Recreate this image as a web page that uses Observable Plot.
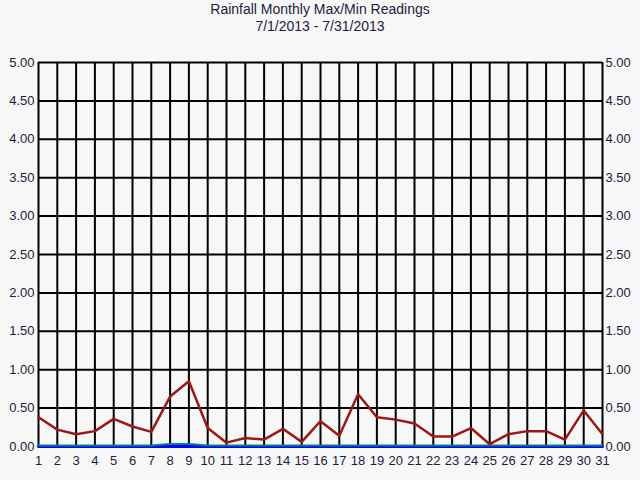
<!DOCTYPE html>
<html><head><meta charset="utf-8">
<script src="https://cdn.jsdelivr.net/npm/d3@7"></script>
<script src="https://cdn.jsdelivr.net/npm/@observablehq/plot@0.6"></script>
<style>
html,body{margin:0;padding:0;background:#f7f7f7;font-family:Arial,"Liberation Sans",sans-serif;}
#title{height:40px;text-align:center;color:#1c1c40;font-size:14px;line-height:17px;padding-top:1px;box-sizing:border-box;width:640px}
</style></head><body>
<div id="title"><div>Rainfall Monthly Max/Min Readings</div><div>7/1/2013 - 7/31/2013</div></div>
<div id="chart"></div>
<script>
const days = [1,2,3,4,5,6,7,8,9,10,11,12,13,14,15,16,17,18,19,20,21,22,23,24,25,26,27,28,29,30,31];
const maxRain = [0.38,0.22,0.16,0.20,0.36,0.26,0.19,0.65,0.85,0.24,0.05,0.11,0.09,0.23,0.06,0.33,0.14,0.68,0.38,0.35,0.30,0.13,0.13,0.24,0.03,0.16,0.20,0.20,0.09,0.47,0.16];
const minRain = [0,0,0,0,0,0,0,0,0,0,0,0,0,0,0,0,0,0,0,0,0,0,0,0,0,0,0,0,0,0,0];
const avgRain = [0,0,0,0,0,0,0,0.02,0.02,0,0,0,0,0,0,0,0,0,0,0,0,0,0,0,0,0,0,0,0,0,0];
const yTicks = [0,0.5,1,1.5,2,2.5,3,3.5,4,4.5,5];

const rows = days.map((d,i)=>({day:d, max:maxRain[i], min:minRain[i], avg:avgRain[i]}));

const chart = Plot.plot({
  width:640, height:440,
  marginTop:22, marginBottom:34, marginLeft:38, marginRight:38,
  style:{background:"#f7f7f7", fontSize:"13px", fontFamily:"Arial, 'Liberation Sans', sans-serif", color:"#1c1c40", overflow:"visible"},
  x:{domain:[1,31]},
  y:{domain:[0,5]},
  marks:[
    Plot.gridY(yTicks,{stroke:"black", strokeOpacity:1, strokeWidth:2}),
    Plot.gridX(days,{stroke:"black", strokeOpacity:1, strokeWidth:2}),
    Plot.axisY(yTicks,{anchor:"left", tickSize:0, tickPadding:4, tickFormat:d=>d.toFixed(2), label:null}),
    Plot.axisY(yTicks,{anchor:"right", tickSize:0, tickPadding:3, tickFormat:d=>d.toFixed(2), label:null}),
    Plot.axisX(days,{anchor:"bottom", tickSize:0, tickPadding:9, tickFormat:d=>String(d), label:null}),
    Plot.lineY(rows,{x:"day", y:"min", stroke:"#0000ff", strokeWidth:3}),
    Plot.lineY(rows,{x:"day", y:"avg", stroke:"#008080", strokeWidth:2, dy:-1}),
    Plot.lineY(rows,{x:"day", y:"max", stroke:"#9b1818", strokeWidth:2.5})
  ]
});
document.getElementById("chart").appendChild(chart);
</script>
</body></html>
